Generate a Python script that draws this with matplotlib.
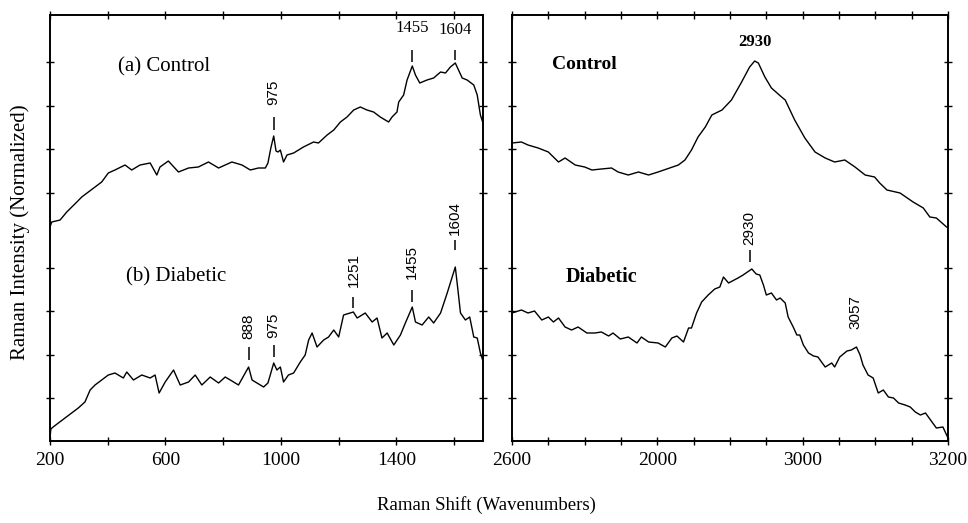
import matplotlib
matplotlib.use("Agg")
import matplotlib.pyplot as plt
from matplotlib.ticker import MultipleLocator, FixedLocator

plt.rcParams['font.family'] = ['Liberation Serif', 'DejaVu Serif']

# fingerprint region (200-1700 cm-1), intensity in arbitrary units
ctrl_fp_x = [200, 206, 235, 258, 293, 310, 333, 356, 379, 402, 425, 460, 483, 512, 547, 570, 581, 610,
             645, 680, 714, 749, 784, 830, 865, 894, 922, 946, 955, 965, 975, 983, 990, 998, 1009, 1021,
             1044, 1078, 1113, 1130, 1160, 1183, 1206, 1229, 1252, 1275, 1298, 1321, 1344, 1373, 1385,
             1402, 1408, 1425, 1437, 1455, 1466, 1481, 1506, 1529, 1553, 1570, 1587, 1604, 1612, 1628,
             1645, 1668, 1680, 1691, 1700]
ctrl_fp_y = [214, 219, 221, 229, 239, 244, 249, 254, 259, 268, 271, 276, 271, 276, 278, 266, 274, 280,
             269, 273, 274, 279, 273, 279, 276, 271, 273, 273, 278, 293, 305, 290, 289, 291, 279, 286,
             288, 294, 299, 298, 306, 311, 319, 324, 331, 334, 331, 329, 324, 319, 324,
             329, 339, 346, 361, 375, 366, 358, 361, 363, 369, 368, 374, 378, 373, 363,
             361, 356, 346, 326, 318]

diab_fp_x = [200, 203, 211, 229, 252, 275, 298, 321, 339, 356, 379, 402, 425, 454, 466, 489, 518, 547,
             564, 578, 599, 628, 651, 680, 703, 726, 755, 784, 807, 836, 853, 888, 900, 917, 940, 955,
             975, 986, 998, 1009, 1026, 1044, 1067, 1084, 1096, 1108, 1125, 1148, 1165, 1183, 1200,
             1217, 1251, 1264, 1292, 1316, 1333, 1350, 1368, 1391, 1414, 1431, 1455, 1466, 1489, 1512,
             1529, 1553, 1576, 1590, 1604, 1612, 1622, 1639, 1654, 1668, 1680, 1691, 1700]
diab_fp_y = [3, 12, 14, 18, 23, 28, 33, 39, 51, 56, 61, 66, 68, 63, 69, 61, 66, 63,
             66, 48, 59, 71, 56, 59, 66, 56, 64, 58, 64, 59, 56, 74, 61, 58, 54, 58,
             78, 71, 74, 59, 66, 68, 79, 86, 101, 108, 94, 101, 104, 111, 104,
             126, 129, 123, 128, 119, 123, 103, 108, 96, 106, 118, 134, 119, 116, 124,
             118, 128, 148, 161, 174, 154, 128, 121, 124, 104, 103, 88, 80]

# high wavenumber region (2600-3200 cm-1)
ctrl_ch_x = [2600, 2613, 2622, 2636, 2650, 2664, 2673, 2687, 2700, 2710, 2723, 2737, 2746, 2760, 2774,
             2788, 2801, 2817, 2829, 2838, 2847, 2856, 2866, 2875, 2889, 2902, 2916, 2927, 2934, 2939,
             2948, 2957, 2971, 2976, 2989, 3003, 3017, 3031, 3044, 3058, 3072, 3086, 3099, 3106, 3116,
             3134, 3152, 3166, 3175, 3184, 3198]
ctrl_ch_y = [298, 299, 296, 293, 289, 279, 283, 276, 274, 271, 272, 273, 269, 266, 269,
             266, 269, 273, 276, 281, 291, 304, 314, 326, 331, 341, 359, 374, 380, 378,
             364, 353, 344, 341, 321, 303, 289, 283, 279, 281, 274, 266, 264, 258, 251,
             248, 239, 233, 224, 223, 214]

diab_ch_x = [2600, 2613, 2622, 2631, 2641, 2650, 2657, 2664, 2673, 2682, 2691, 2703, 2714, 2723, 2733,
             2739, 2749, 2760, 2772, 2778, 2788, 2801, 2811, 2820, 2827, 2836, 2843, 2847, 2854, 2861,
             2870, 2879, 2886, 2891, 2898, 2911, 2918, 2930, 2936, 2941, 2946, 2950, 2957, 2964, 2969,
             2976, 2980, 2987, 2992, 2996, 3001, 3008, 3015, 3021, 3031, 3040, 3044, 3051, 3061, 3067,
             3074, 3079, 3083, 3090, 3097, 3104, 3111, 3118, 3125, 3132, 3141, 3148, 3155, 3162, 3169,
             3176, 3184, 3193, 3200]
diab_ch_y = [128, 131, 128, 130, 121, 124, 119, 123, 114, 111, 114, 108, 108, 109, 105,
             108, 102, 104, 98, 104, 99, 98, 94, 103, 105, 99, 113, 113, 128, 139,
             146, 152, 154, 164, 158, 163, 166, 172, 167, 166, 156, 146, 148, 141, 143,
             138, 124, 114, 106, 106, 96, 88, 85, 84, 74, 78, 74, 84, 90, 91,
             94, 86, 76, 66, 63, 48, 51, 44, 43, 38, 36, 34, 29, 26, 28,
             21, 13, 14, 3]

# peak labels: (label, wavenumber, label height, tick bottom, tick top, rotated)
ctrl_fp_peaks = [('975', 975, 349, 311, 324, True), ('1455', 1455, 413, 379, 391, False),
                 ('1604', 1604, 411, 381, 391, False)]
diab_fp_peaks = [('888', 888, 115, 81, 94, True), ('975', 975, 116, 84, 96, True),
                 ('1251', 1251, 171, 133, 144, True), ('1455', 1455, 179, 139, 151, True),
                 ('1604', 1604, 223, 191, 201, True)]
diab_ch_peaks = [('2930', 2927, 213, 179, 191, True), ('3057', 3072, 129, None, None, True)]

left_ticks = [200, 600, 1000, 1400]
left_minor = [400, 800, 1200, 1600]
right_ticks = [2600, 2800, 3000, 3200]
right_ticklabels = ['2600', '2000', '3000', '3200']
yt = [43, 86, 130, 173, 248, 292, 335, 379]

fig = plt.figure(figsize=(9.68, 5.23), dpi=100)
ax1 = fig.add_axes([50/968, 82/523, 433/968, 426/523])
ax2 = fig.add_axes([512/968, 82/523, 436/968, 426/523])

lw = 1.0
ax1.plot(ctrl_fp_x, ctrl_fp_y, color='black', lw=lw)
ax1.plot(diab_fp_x, diab_fp_y, color='black', lw=lw)
ax2.plot(ctrl_ch_x, ctrl_ch_y, color='black', lw=lw)
ax2.plot(diab_ch_x, diab_ch_y, color='black', lw=lw)


def peak_marks(ax, peaks):
    for lab, x, ty, y0, y1, rot in peaks:
        if rot:
            ax.text(x, ty, lab, rotation=90, ha='center', va='center', fontsize=11,
                    family='Liberation Sans')
        else:
            ax.text(x, ty, lab, ha='center', va='center', fontsize=12)
        if y0 is not None:
            ax.vlines(x, y0, y1, color='black', lw=1.1)


peak_marks(ax1, ctrl_fp_peaks)
peak_marks(ax1, diab_fp_peaks)
peak_marks(ax2, diab_ch_peaks)
ax2.text(2934, 399, '2930', ha='center', va='center', fontsize=12, fontweight='bold')

ax1.text(0.263, 0.878, '(a) Control', transform=ax1.transAxes, ha='center', va='center', fontsize=15)
ax1.text(0.291, 0.385, '(b) Diabetic', transform=ax1.transAxes, ha='center', va='center', fontsize=15)
ax2.text(0.167, 0.883, 'Control', transform=ax2.transAxes, ha='center', va='center', fontsize=14,
         fontweight='bold')
ax2.text(0.206, 0.385, 'Diabetic', transform=ax2.transAxes, ha='center', va='center', fontsize=14.5,
         fontweight='bold')

ax1.set_xlim(200, 1700)
ax2.set_xlim(2600, 3200)
for ax in (ax1, ax2):
    ax.set_ylim(0, 426)
    ax.yaxis.set_major_locator(FixedLocator(yt))
    ax.set_yticklabels([])
    for s in ax.spines.values():
        s.set_linewidth(1.4)
    ax.tick_params(which='both', direction='inout', length=6, width=1, top=True, right=True,
                   labelsize=14, pad=5)

ax1.xaxis.set_major_locator(FixedLocator(left_ticks))
ax1.xaxis.set_minor_locator(FixedLocator(left_minor))
ax2.xaxis.set_major_locator(FixedLocator(right_ticks))
ax2.set_xticklabels(right_ticklabels)
ax2.xaxis.set_minor_locator(MultipleLocator(50))

fig.text(0.021, 0.556, 'Raman Intensity (Normalized)', rotation=90, ha='center', va='center', fontsize=15)
fig.text(0.503, 0.034, 'Raman Shift (Wavenumbers)', ha='center', va='center', fontsize=13.5)

fig.savefig('out.png', dpi=100)
